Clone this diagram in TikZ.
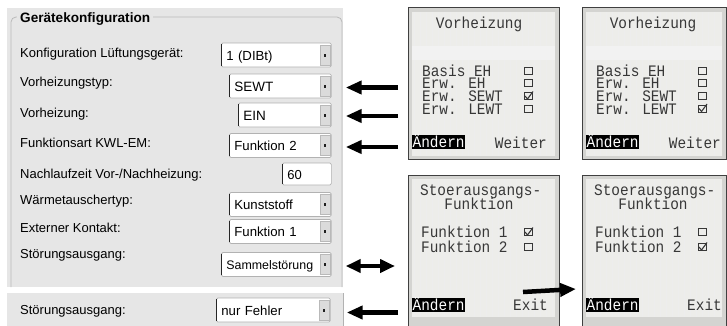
\documentclass[tikz,border=0pt]{standalone}
\usepackage{fontspec}
\setmainfont{Liberation Sans}
\newfontfamily\lcdfont[FakeStretch=0.9]{Liberation Mono}
\usetikzlibrary{arrows.meta,calc}
\definecolor{panel}{RGB}{230,230,230}
\definecolor{lcdbg}{RGB}{237,237,234}
\definecolor{lcdframe}{RGB}{212,212,209}
\definecolor{lcdink}{RGB}{55,55,55}
\newcommand{\dropdown}[6]{%
  \node[ddbox, text width=#4, font=\fontsize{#6}{15}\selectfont] (#1) at (#2,#3) {#5};
  \node[ddbtn] (#1-btn) at ($(#1.east)+(-6.5,0)$) {};
  \fill[gray!25!black] ($(#1-btn.center)+(-1,-1.5)$) rectangle ++(2,3);
  \draw[gray!30!black, line width=1.3pt] ($(#1.north west)+(0.4,1.5)$) -- ($(#1.south west)+(0.4,-1.5)$);
}
\newcommand{\lcdcb}[3]{%
  \draw[lcdink, line width=0.9pt] (#1-4,#2-3.5) rectangle (#1+4,#2+3.5);
  \ifnum#3=1 \draw[lcdink, line width=1.1pt] (#1-3,#2) -- (#1-0.5,#2+3) -- (#1+5,#2-4.5);\fi
}
\newcommand{\lcdsurface}[4]{% x1 y1 x2 y2
  \fill[lcdbg] (#1,#2) rectangle (#3,#4);
  \foreach \xx in {#1,...,#3} {\ifodd\xx\else\ifnum\numexpr\xx-3*(\xx/3)\relax=0
    \draw[gray!14, line width=0.4pt] (\xx,#2) -- (\xx,#4);\fi\fi}
}
\begin{document}
\begin{tikzpicture}[x=1pt,y=-1pt,
  lbl/.style={font=\fontsize{13}{15}\selectfont, inner sep=0pt, anchor=base west},
  ddbox/.style={draw=gray!60, fill=white, line width=0.7pt,
    rounded corners=1.5pt, minimum height=24pt, text height=10pt, text depth=0pt,
    inner xsep=5pt, inner ysep=0pt, anchor=west, align=left},
  ddbtn/.style={draw=gray!55, fill=gray!28, line width=0.5pt, minimum width=10pt, minimum height=20pt, inner sep=0pt},
  screen/.style={draw=gray!50!black, line width=1.3pt, fill=lcdframe, inner sep=0pt, anchor=north west},
  lcdtxt/.style={font=\lcdfont\fontsize{16}{17}\selectfont, text=lcdink, inner sep=0pt, text height=10pt, text depth=0pt},
  inv/.style={lcdtxt, fill=black, text=white, inner xsep=0.5pt, inner ysep=2pt, anchor=north west},
  bigarrow/.style={line width=4.5pt, -{Triangle[length=16pt,width=13pt]}},
  dblarrow/.style={line width=4.5pt, {Triangle[length=15pt,width=13pt]}-{Triangle[length=15pt,width=13pt]}},
]
\useasboundingbox (0,0) rectangle (727,325);
\clip (0,0) rectangle (727,325);
\fill[white] (0,0) rectangle (727,325);

% ---------- left panel ----------
\fill[panel] (7,8) rectangle (343,287);
\draw[gray!55, line width=0.8pt, rounded corners=5pt] (11,287) -- (11,17) -- (342,17) -- (342,287);
\node[anchor=base west, fill=panel, font=\bfseries\fontsize{13.6}{15}\selectfont, inner xsep=3pt, inner ysep=2pt] (title) at (17,22) {Gerätekonfiguration};

\node[lbl] (l1) at (20,57) {Konfiguration Lüftungsgerät:};
\node[lbl] (l2) at (20,86) {Vorheizungstyp:};
\node[lbl] (l3) at (20,117) {Vorheizung:};
\node[lbl] (l4) at (20,147) {Funktionsart KWL-EM:};
\node[lbl] (l5) at (20,178) {Nachlaufzeit Vor-/Nachheizung:};
\node[lbl] (l6) at (20,204) {Wärmetauschertyp:};
\node[lbl] (l7) at (20,232) {Externer Kontakt:};
\node[lbl] (l8) at (20,258) {Störungsausgang:};

\dropdown{dd1}{221}{55}{100pt}{1 (DIBt)}{13.2}
\dropdown{dd2}{229}{86}{92pt}{SEWT}{13.5}
\dropdown{dd3}{238}{115}{83pt}{EIN}{13.5}
\dropdown{dd4}{229}{145.5}{92pt}{Funktion 2}{13.2}
\node[ddbox, text width=39pt, minimum height=22pt, font=\fontsize{13}{15}\selectfont] (dd5) at (282,174) {60};
\draw[gray!30!black, line width=1.3pt] ($(dd5.north west)+(0.4,1.5)$) -- ($(dd5.south west)+(0.4,-1.5)$);
\dropdown{dd6}{229}{204.5}{92pt}{Kunststoff}{13.2}
\dropdown{dd7}{229}{231.5}{92pt}{Funktion 1}{13.2}
\dropdown{dd8}{221}{264.5}{100pt}{Sammelstörung}{12.4}

% bottom strip
\fill[panel] (7,293) rectangle (343,326);
\draw[gray!60, line width=0.8pt] (343,293) -- (343,326);
\node[lbl] (l9) at (20,314) {Störungsausgang:};
\dropdown{dd9}{216}{310}{104pt}{nur Fehler}{13.2}

% ---------- LCD screens ----------
\node[screen, minimum width=151pt, minimum height=152pt] (tl) at (408,7) {};
\node[screen, minimum width=144pt, minimum height=152pt] (tr) at (582,7) {};
\node[screen, minimum width=151pt, minimum height=165pt] (bl) at (408,175) {};
\node[screen, minimum width=144pt, minimum height=165pt] (br) at (582,175) {};
\lcdsurface{412}{12}{555}{156}
\lcdsurface{586}{12}{722}{156}
\lcdsurface{412}{179}{555}{317}
\lcdsurface{586}{179}{722}{317}
\fill[gray!9, opacity=0.8] (412,46) rectangle (555,60);
\fill[gray!9, opacity=0.8] (586,46) rectangle (722,60);

% top-left screen
\node[lcdtxt, anchor=base] (tl-h) at (479,28) {Vorheizung};
\node[lcdtxt, anchor=base west] (tl-a) at (422,76) {Basis EH};
\node[lcdtxt, anchor=base west] (tl-b) at (422,88.7) {Erw. EH};
\node[lcdtxt, anchor=base west] (tl-c) at (422,101.3) {Erw. SEWT};
\node[lcdtxt, anchor=base west] (tl-d) at (422,114) {Erw. LEWT};
\lcdcb{528}{70.5}{0}
\lcdcb{528}{83}{0}
\lcdcb{528}{96}{1}
\lcdcb{528}{108.5}{0}
\node[inv] (tl-and) at (412,135) {Ändern};
\node[lcdtxt, anchor=base east] (tl-w) at (547,148) {Weiter};

% top-right screen
\node[lcdtxt, anchor=base] (tr-h) at (653,28) {Vorheizung};
\node[lcdtxt, anchor=base west] (tr-a) at (596,76) {Basis EH};
\node[lcdtxt, anchor=base west] (tr-b) at (596,88.7) {Erw. EH};
\node[lcdtxt, anchor=base west] (tr-c) at (596,101.3) {Erw. SEWT};
\node[lcdtxt, anchor=base west] (tr-d) at (596,114) {Erw. LEWT};
\lcdcb{702}{70.5}{0}
\lcdcb{702}{83}{0}
\lcdcb{702}{96}{0}
\lcdcb{702}{108.5}{1}
\node[inv] (tr-and) at (586,135) {Ändern};
\node[lcdtxt, anchor=base east] (tr-w) at (721,148) {Weiter};

% bottom-left screen
\node[lcdtxt, anchor=base west] (bl-h1) at (420,195) {Stoerausgangs-};
\node[lcdtxt, anchor=base] (bl-h2) at (479,209) {Funktion};
\node[lcdtxt, anchor=base west] (bl-a) at (421,237.5) {Funktion 1};
\node[lcdtxt, anchor=base west] (bl-b) at (421,252.5) {Funktion 2};
\lcdcb{528}{232}{1}
\lcdcb{528}{247}{0}
\node[inv] (bl-and) at (412,298) {Ändern};
\node[lcdtxt, anchor=base east] (bl-e) at (548,310) {Exit};

% bottom-right screen
\node[lcdtxt, anchor=base west] (br-h1) at (594,195) {Stoerausgangs-};
\node[lcdtxt, anchor=base] (br-h2) at (653,209) {Funktion};
\node[lcdtxt, anchor=base west] (br-a) at (595,237.5) {Funktion 1};
\node[lcdtxt, anchor=base west] (br-b) at (595,252.5) {Funktion 2};
\lcdcb{702}{232}{0}
\lcdcb{702}{247}{1}
\node[inv] (br-and) at (586,298) {Ändern};
\node[lcdtxt, anchor=base east] (br-e) at (722,310) {Exit};

% ---------- arrows ----------
\draw[bigarrow] ($(tl.west |- dd2.east)+(-10,1.5)$) -- ($(dd2.east)+(14,1.5)$);
\draw[bigarrow] ($(tl.west |- dd3.east)+(-10,1)$) -- ($(dd3.east)+(14,1)$);
\draw[bigarrow] ($(tl.west |- dd4.east)+(-10,1.5)$) -- ($(dd4.east)+(14,1.5)$);
\draw[dblarrow] ($(dd8.east)+(14,1.5)$) -- ($(bl.west |- dd8.east)+(-13,1.5)$);
\draw[bigarrow] ($(bl.west |- dd9.east)+(-10,2.5)$) -- ($(dd9.east)+(16,2.5)$);
\coordinate (rt) at (523,292);
\draw[bigarrow] (rt) -- ($(br.west |- rt)+(-6,-3)$);
\end{tikzpicture}
\end{document}
